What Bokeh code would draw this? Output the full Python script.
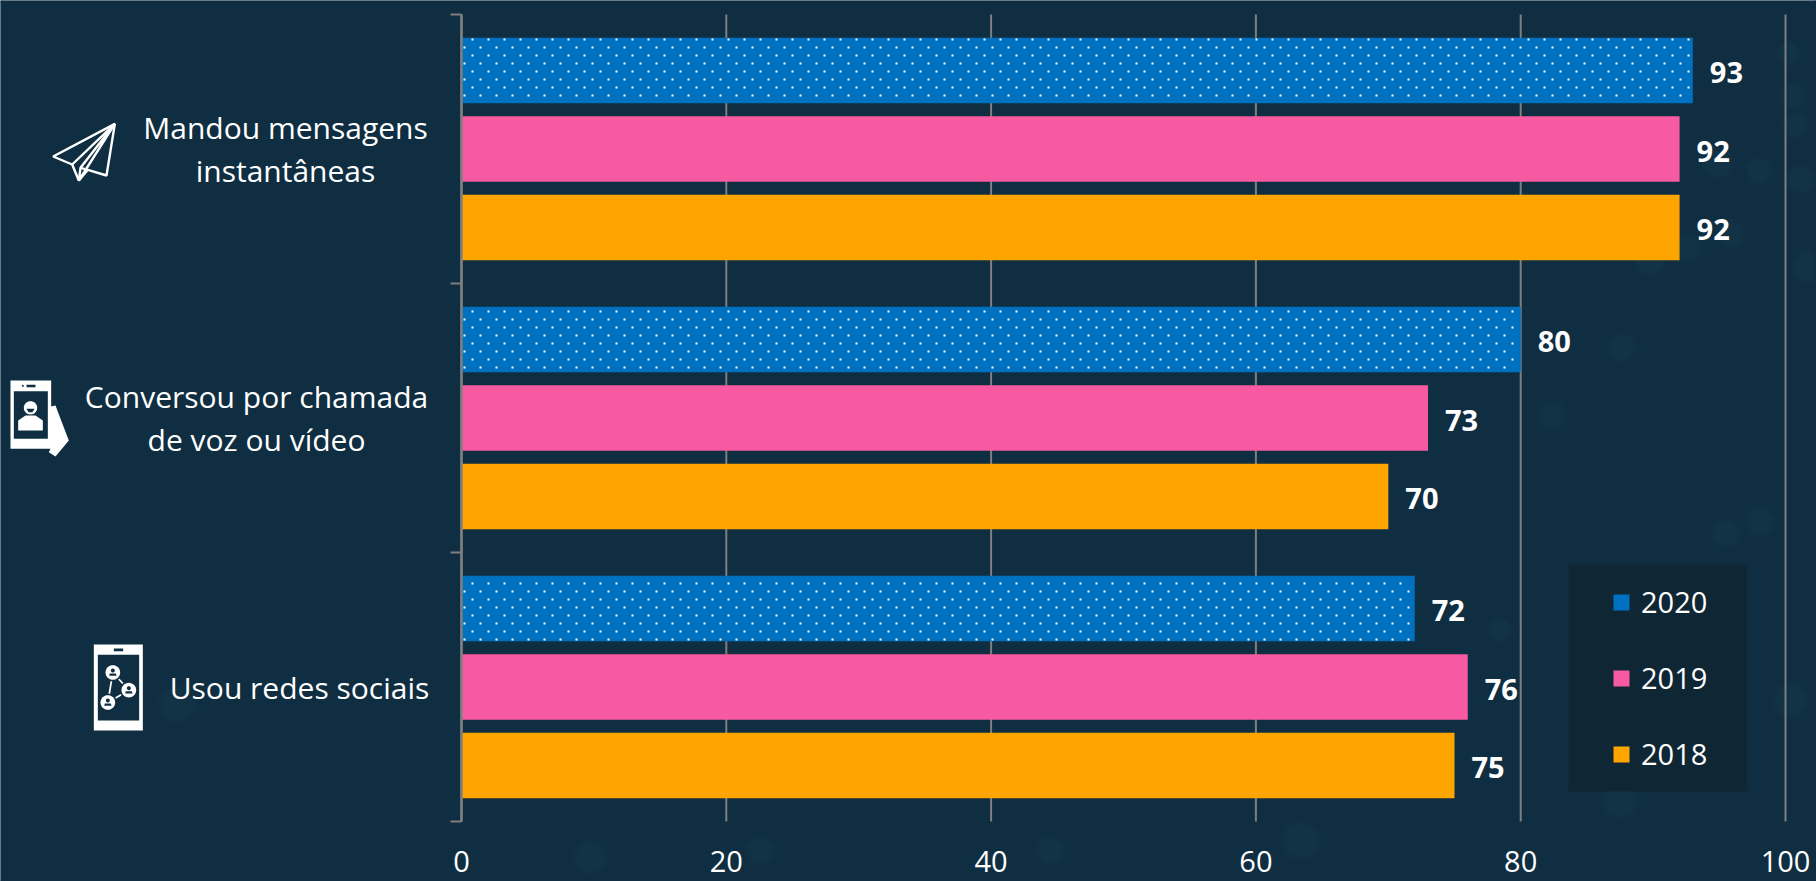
import math
from bokeh.embed import file_html
from bokeh.models import (BoxAnnotation, ColumnDataSource, FixedTicker, Legend,
                          LegendItem, LinearAxis, PolyAnnotation, Range1d)
from bokeh.core.properties import value
from bokeh.plotting import figure
from bokeh.resources import INLINE

# ---- data ----
categories = ["Usou redes sociais", "Conversou por chamada\nde voz ou vídeo", "Mandou mensagens\ninstantâneas"]
values_2020 = [72, 80, 93]
values_2019 = [76, 73, 92]
values_2018 = [75, 70, 92]
x_ticks = [0, 20, 40, 60, 80, 100]
years = ["2020", "2019", "2018"]

BG = "#102e41"
GRID = "#7f7f7f"
FONT = "Open Sans"

# The frame fills the canvas so that the labels and icons left of the bars are not clipped;
# value 0..100 spans pixels 461..1785 and group 0..3 spans pixels 821..14.
W, HT = 1816, 881
X0, X100, Y0, Y3 = 461, 1785, 821, 14
KX = (X100 - X0) / 100
KY = (Y0 - Y3) / 3


def dx_(px):
    return (px - X0) / KX


def dy_(py):
    return (Y0 - py) / KY


p = figure(width=W, height=HT, output_backend="svg", toolbar_location=None,
           x_range=Range1d(dx_(0), dx_(W)), y_range=Range1d(dy_(HT), dy_(0)), x_axis_type=None, y_axis_type=None,
           background_fill_color=BG, border_fill_color=BG, outline_line_color=None,
           min_border_left=0, min_border_right=0, min_border_top=0, min_border_bottom=0)


def poly(pts, fill="white", line=None, lw=0, sx=1 / 3, sy=1 / 3, ox=0, oy=0, alpha=1, level="annotation"):
    xs = [ox + a * sx for a, _ in pts]
    ys = [oy + b * sy for _, b in pts]
    p.add_layout(PolyAnnotation(xs=xs, ys=ys, xs_units="canvas", ys_units="canvas", fill_color=fill,
                                fill_alpha=alpha if fill else 0, line_color=line, line_width=lw,
                                line_alpha=1 if line else 0, editable=False, level=level))


def circ(cx, cy, r, fill, **k):
    poly([(cx + r * math.cos(t / 32 * 2 * math.pi), cy + r * math.sin(t / 32 * 2 * math.pi)) for t in range(32)], fill, **k)


def rect(x0, y0, x1, y1, fill, **k):
    poly([(x0, y0), (x1, y0), (x1, y1), (x0, y1)], fill, **k)


# faint spots of the backdrop (decoration)
spots = [(1795, 125, 22), (1792, 95, 22), (1759, 170, 22), (1800, 179, 24), (1808, 267, 28), (1650, 260, 26),
         (1688, 248, 24), (1717, 163, 26), (1730, 233, 24), (1788, 53, 20), (1621, 347, 24), (1552, 415, 24),
         (1725, 533, 24), (1760, 521, 24), (590, 857, 28), (177, 703, 32), (1620, 800, 30), (1300, 840, 32),
         (1500, 630, 20), (1790, 700, 30), (760, 850, 24), (1050, 850, 24)]
for scale, alpha in ((1.25, .10), (1.0, .18)):
    p.scatter([dx_(s[0]) for s in spots], [dy_(s[1]) for s in spots], marker="circle", size=[s[2] * scale for s in spots],
              fill_color="#1a4358", fill_alpha=alpha, line_color=None, level="underlay")

# vertical grid lines, behind the bars
p.segment(x0=x_ticks, x1=x_ticks, y0=[0] * len(x_ticks), y1=[3] * len(x_ticks), line_color=GRID, line_width=2,
          level="underlay")

# x axis, tick labels only
xa = LinearAxis(ticker=FixedTicker(ticks=x_ticks), axis_line_color=None, major_tick_line_color=None,
                minor_tick_line_color=None, major_label_text_color="white", major_label_text_font=FONT,
                major_label_text_font_size="29px", major_label_standoff=23, fixed_location=0, bounds=(0, 100))
p.add_layout(xa, "below")

# y axis: tick marks on group boundaries
ya = LinearAxis(ticker=FixedTicker(ticks=[0, 1, 2, 3]), axis_line_color=GRID, axis_line_width=2.5,
                major_tick_line_color=GRID, major_tick_line_width=2, major_tick_in=0, major_tick_out=11,
                minor_tick_line_color=None, major_label_overrides={0: "", 1: "", 2: "", 3: ""},
                major_label_text_font_size="1px", major_label_standoff=0, fixed_location=0, bounds=(0, 3))
p.add_layout(ya, "left")

OFF = 0.292
H = 0.244
centres = [i + 0.5 for i in range(len(categories))]
src = ColumnDataSource(dict(
    y20=[c + OFF for c in centres], y19=centres, y18=[c - OFF for c in centres],
    v20=values_2020, v19=values_2019, v18=values_2018,
    t20=[str(v) for v in values_2020], t19=[str(v) for v in values_2019], t18=[str(v) for v in values_2018]))

r20 = p.hbar(y="y20", right="v20", left=0, height=H, source=src, fill_color="#0070c0", line_color=None)
r19 = p.hbar(y="y19", right="v19", left=0, height=H, source=src, fill_color="#f75aa1", line_color=None)
r18 = p.hbar(y="y18", right="v18", left=0, height=H, source=src, fill_color="#ffa500", line_color=None)

# dot texture of the 2020 bars, on a staggered 16 x 8 pixel lattice
dx, dy = [], []
for yc, v in zip(src.data["y20"], values_2020):
    y_top = Y0 - (yc + H / 2) * KY
    y_bot = Y0 - (yc - H / 2) * KY
    x_end = X0 + v * KX
    row = 0
    while 39 + 8 * row <= y_bot:
        py = 39 + 8 * row
        if py >= y_top:
            px = 472 if row % 2 == 0 else 464
            while px < x_end - 1:
                dx.append(dx_(px))
                dy.append(dy_(py))
                px += 16
        row += 1
p.scatter(dx, dy, marker="square", size=2, fill_color="white", line_color=None)

for yc, vc, tc in (("y20", "v20", "t20"), ("y19", "v19", "t19"), ("y18", "v18", "t18")):
    p.text(x=vc, y=yc, text=tc, source=src, x_offset=17, y_offset=2, text_color="white", text_font=value(FONT),
           text_font_style="bold", text_font_size="29px", text_baseline="middle", text_align="left")

# category labels, centred line by line
p.text(x=[dx_(cx) for cx in (299, 256, 285)], y=centres, text=categories, text_color="white",
       text_font=value(FONT), text_font_size="30px", text_align="center", text_baseline="middle",
       text_line_height=1.06)

# legend panel and legend
p.add_layout(BoxAnnotation(left=1568, right=1747, top=564, bottom=791, left_units="canvas", right_units="canvas",
                           top_units="canvas", bottom_units="canvas", fill_color="#0f2634", fill_alpha=1,
                           line_color=None, level="underlay"))
legend = Legend(items=[LegendItem(label=y, renderers=[r]) for y, r in zip(years, (r20, r19, r18))],
                location=(1611, 108), orientation="vertical", padding=0, margin=0, spacing=37,
                glyph_width=20, glyph_height=20, label_standoff=10, label_text_color="white",
                label_text_font=FONT, label_text_font_size="29px", label_text_baseline="middle",
                background_fill_alpha=0, border_line_color=None)
p.add_layout(legend)
rect(1623, 598, 1625, 600, "white", sx=1, sy=1, level="overlay")
rect(1615, 606, 1617, 608, "white", sx=1, sy=1, level="overlay")

# ---- icons: decorative shapes ----
A = dict(ox=0, oy=90)
for pts in ([(343, 100), (158, 198), (215, 222), (235, 270), (262, 238), (318, 255)],
            [(343, 100), (215, 222)], [(343, 100), (240, 232), (235, 270)], [(240, 232), (262, 238)]):
    poly(pts, None, "white", 2.4, **A)

poly([(140, 950), (165, 945), (180, 985), (205, 1050), (165, 1098), (145, 1085), (150, 1075)], "white", **A)
rect(30, 870, 152, 1075, "white", **A)
rect(40, 902, 142, 1045, BG, **A)
rect(78, 883, 105, 890, BG, **A)
circ(67, 886, 3, BG, **A)
circ(90, 952, 20, "white", **A)
poly([(53, 1020), (53, 990), (75, 975), (105, 975), (127, 990), (127, 1020)], "white", **A)
poly([(78, 955), (102, 955), (96, 965), (84, 965)], BG, **A)

B = dict(ox=0, oy=620)
rect(280, 72, 427, 330, "white", **B)
rect(292, 103, 416, 300, BG, **B)
rect(340, 84, 368, 92, BG, **B)
for a, b in (((337, 156), (385, 209)), ((337, 156), (322, 246)), ((385, 209), (322, 246))):
    ddx, ddy = b[0] - a[0], b[1] - a[1]
    n = math.hypot(ddx, ddy)
    nx, ny = -ddy / n * 2.5, ddx / n * 2.5
    poly([(a[0] + nx, a[1] + ny), (b[0] + nx, b[1] + ny), (b[0] - nx, b[1] - ny), (a[0] - nx, a[1] - ny)], "white", **B)
for cx, cy in ((337, 156), (385, 209), (322, 246)):
    circ(cx, cy, 27, BG, **B)
    circ(cx, cy, 22, "white", **B)
    circ(cx, cy - 6, 6, BG, **B)
    poly([(cx - 11, cy + 10), (cx - 9, cy + 3), (cx + 9, cy + 3), (cx + 11, cy + 10)], BG, **B)

# hide the thin light line that the page shows along the canvas edges
E = dict(sx=1, sy=1, level="overlay")
rect(0, 0, W, 2, BG, **E)
rect(0, 0, 2, HT, BG, **E)
rect(W - 2, 0, W, HT, BG, **E)
rect(0, HT - 2, W, HT, BG, **E)

open("out.html", "w").write(file_html(p, INLINE))
